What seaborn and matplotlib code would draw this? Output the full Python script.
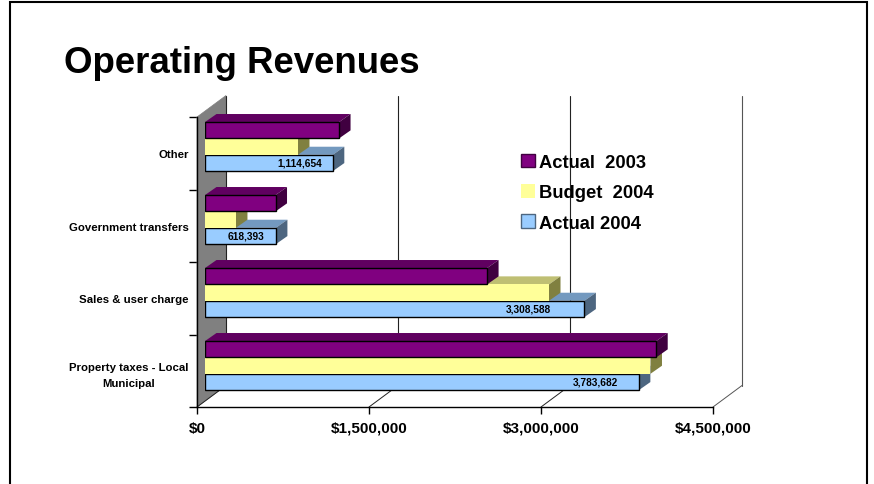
import matplotlib
matplotlib.use("Agg")
import pandas as pd
import seaborn as sns
import matplotlib.pyplot as plt
from matplotlib.patches import Polygon, Rectangle
from matplotlib.ticker import FuncFormatter

categories = ["Other", "Government transfers", "Sales & user charge", "Property taxes - Local\nMunicipal"]
actual_2003 = [1169000, 615000, 2460000, 3935000]
budget_2004 = [811000, 270000, 3000000, 3885000]
actual_2004 = [1114654, 618393, 3308588, 3783682]
series_names = ["Actual  2003", "Budget  2004", "Actual 2004"]
x_ticks = [0, 1500000, 3000000, 4500000]

# how far the value label sits left of the bar end, in dollars
label_shift = [288000, 262000, 488000, 375000]

front = ["#800080", "#FFFF99", "#99CCFF"]
top = ["#600060", "#BFBF73", "#7399BF"]
side = ["#400040", "#808040", "#4D6680"]
edges = ["black", "none", "black"]

W, H = 874, 485
# pixel geometry of the chart frame
x0, x1, y_top, y_bot = 197, 713, 118, 408
px_x = (x_ticks[-1] - x_ticks[0]) / (x1 - x0)
px_y = 4 / (y_bot - y_top)


def ax_rect(left, right, top_px, bottom_px):
    return [left / W, 1 - bottom_px / H, (right - left) / W, (bottom_px - top_px) / H]


df = pd.DataFrame({
    "category": categories * 3,
    "series": [s for s in series_names for _ in categories],
    "value": actual_2003 + budget_2004 + actual_2004,
})

sns.set_theme(style="white")
plt.rcParams["font.family"] = ["Liberation Sans", "DejaVu Sans"]
plt.rcParams["font.weight"] = "bold"

fig = plt.figure(figsize=(W / 100, H / 100), dpi=100)
# slide border, open at the bottom
fig.add_artist(Rectangle((10.3 / W, -0.1), (867.3 - 10.3) / W, 1.1 - 2.5 / H, transform=fig.transFigure,
                         fill=False, edgecolor="black", linewidth=1.5))
fig.text(64 / W, 1 - 73 / H, "Operating Revenues", fontsize=26.4, fontweight="bold",
         color="black", va="baseline", ha="left")

# frame: wall, grid, ticks and axis labels
frame = fig.add_axes(ax_rect(x0, x1, y_top, y_bot))
frame.set_xlim(x_ticks[0], x_ticks[-1])
frame.set_ylim(3.5, -0.5)
frame.patch.set_visible(False)
sns.despine(ax=frame)
for s in ["left", "bottom"]:
    frame.spines[s].set_color("black")
    frame.spines[s].set_linewidth(1.0)

dx = 29 * px_x
dy = 21.5 * px_y
frame.add_patch(Polygon([(0, 3.5), (dx, 3.5 - dy), (dx, -0.5 - dy), (0, -0.5)], closed=True,
                        facecolor="#808080", edgecolor="#808080", linewidth=0.5, clip_on=False, zorder=1))
for t in x_ticks:
    color = "#555555" if t == x_ticks[-1] else "#222222"
    frame.plot([t, t + dx], [3.5, 3.5 - dy], color=color, linewidth=0.7, clip_on=False, zorder=2)
    frame.plot([t + dx, t + dx], [3.5 - dy, -0.5 - dy], color=color, linewidth=0.8, clip_on=False, zorder=2)

frame.set_xticks(x_ticks)
frame.xaxis.set_major_formatter(FuncFormatter(lambda v, pos: f"${v:,.0f}"))
frame.set_yticks([0, 1, 2, 3])
frame.set_yticklabels(categories, multialignment="center", linespacing=1.75)
frame.set_yticks([-0.5, 0.5, 1.5, 2.5, 3.5], minor=True)
frame.tick_params(axis="x", length=5, width=1, color="black", labelsize=11, pad=5, bottom=True, labelcolor="black")
frame.tick_params(axis="y", which="major", length=0, labelsize=8.2, pad=6, labelcolor="black")
frame.tick_params(axis="y", which="minor", length=6, width=1, color="black", left=True)
frame.set_xlabel("")
frame.set_ylabel("")

# bars sit in the middle of the depth, so their axes is shifted against the frame
ax = fig.add_axes(ax_rect(x0 + 8, x1 + 8, 111.1, 403.1))
ax.patch.set_visible(False)
sns.barplot(data=df, x="value", y="category", hue="series", hue_order=series_names, order=categories,
            palette=front, width=0.672, gap=0, saturation=1, dodge=True, legend=False, ax=ax)
ax.set_xlim(x_ticks[0], x_ticks[-1])
ax.set_ylim(3.5, -0.5)
ax.axis("off")

bx = 11.5 * px_x
by = 8 * px_y
for j, cont in enumerate(ax.containers):
    z = 10 - 2 * j
    for bar in cont:
        bar.set_zorder(z)
        bar.set_edgecolor(edges[j])
        bar.set_linewidth(1.0)
        xe = bar.get_x() + bar.get_width()
        yt = bar.get_y()
        yb = yt + bar.get_height()
        ax.add_patch(Polygon([(bar.get_x(), yt), (bar.get_x() + bx, yt - by), (xe + bx, yt - by), (xe, yt)],
                             closed=True, facecolor=top[j], edgecolor="none", zorder=z - 1, clip_on=False))
        ax.add_patch(Polygon([(xe, yt), (xe + bx, yt - by), (xe + bx, yb - by), (xe, yb)],
                             closed=True, facecolor=side[j], edgecolor="none", zorder=z - 1, clip_on=False))

for bar, v, shift in zip(ax.containers[2], actual_2004, label_shift):
    ax.text(v - shift, bar.get_y() + bar.get_height() / 2, f"{v:,.0f}", fontsize=7.3, fontweight="bold",
            color="black", ha="center", va="center", zorder=20)

# legend
handles = [Rectangle((0, 0), 1, 1, facecolor=front[j], edgecolor=side[0] if j == 0 else (side[2] if j == 2 else "none"),
                     linewidth=1) for j in range(3)]
leg = fig.legend(handles, series_names, loc="upper left", bbox_to_anchor=(521 / W, 1 - 154.5 / H), frameon=False,
                 fontsize=13.2, handlelength=0.77, handleheight=0.77, handletextpad=0.22, labelspacing=0.72,
                 borderpad=0, borderaxespad=0)
for t in leg.get_texts():
    t.set_color("black")
    t.set_fontweight("bold")

fig.savefig("out.png", dpi=100)
